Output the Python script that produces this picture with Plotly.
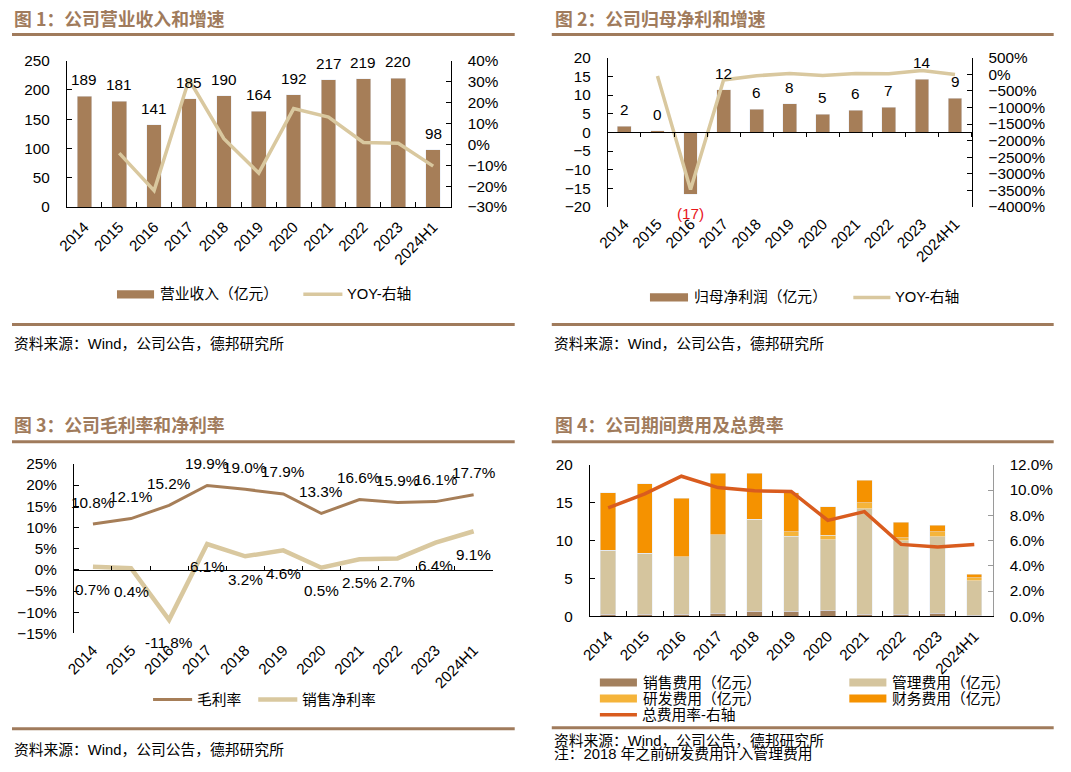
import plotly.graph_objects as go

W, H = 1071, 772
# capture correction measured on earlier renders
SX, OX = 0.987, 12.2
SY, OY = 0.975, 9.5
FS = 1 / 0.981

# ---------------- data ----------------
cats = ["2014", "2015", "2016", "2017", "2018", "2019", "2020", "2021", "2022", "2023", "2024H1"]

revenue = [189, 181, 141, 185, 190, 164, 192, 217, 219, 220, 98]
revenue_yoy = [None, -4.2, -22.1, 31.0, 2.7, -13.7, 17.1, 13.0, 0.9, 0.5, -10.4]

net_profit = [1.7, 0.5, -16.6, 11.4, 6.2, 7.7, 4.8, 5.9, 6.7, 14.2, 9.1]
net_profit_labels = ["2", "0", "(17)", "12", "6", "8", "5", "6", "7", "14", "9"]
net_profit_yoy = [None, -50, -3470, -170, -45, 25, -35, 22, 14, 112, -10]

gross_margin = [10.8, 12.1, 15.2, 19.9, 19.0, 17.9, 13.3, 16.6, 15.9, 16.1, 17.7]
net_margin = [0.7, 0.4, -11.8, 6.1, 3.2, 4.6, 0.5, 2.5, 2.7, 6.4, 9.1]

sales_exp = [0.3, 0.3, 0.3, 0.4, 0.7, 0.7, 0.8, 0.3, 0.3, 0.4, 0.15]
admin_exp = [8.4, 8.0, 7.6, 10.4, 12.1, 9.9, 9.3, 13.9, 9.7, 10.1, 4.55]
rd_exp = [0, 0, 0, 0, 0, 0.6, 0.6, 0.8, 0.4, 0.7, 0.4]
fin_exp = [7.6, 9.2, 7.7, 8.1, 6.1, 5.1, 3.8, 3.0, 2.0, 0.8, 0.45]
exp_rate = [8.6, 9.7, 11.1, 10.2, 9.95, 9.9, 7.6, 8.3, 5.7, 5.5, 5.7]

# ---------------- style ----------------
BROWN = "#A67E58"
BEIGE = "#D9C89F"
TITLE_C = "#A07B5C"
C_SALES = "#A3805E"
C_ADMIN = "#D5C59E"
C_RD = "#F5B43A"
C_FIN = "#F59200"
C_RATE = "#D95C1E"
FONT = "Liberation Sans, Arial, Noto Sans CJK SC, sans-serif"
CJK = "Noto Sans CJK SC, sans-serif"
TICKF = dict(family=FONT, size=15 * FS, color="black")


def px(p):
    return max(0.0, (p - OX) / SX) / W


def py(p):
    return 1 - min(H - 10, max(0.0, (p - OY) / SY)) / H


def ydom(top, bottom):
    return [py(bottom), py(top)]


fig = go.Figure()

fig.add_trace(go.Bar(x=cats, y=revenue, marker_color=BROWN, xaxis="x", yaxis="y",
                     showlegend=False, name="营业收入（亿元）"))
fig.add_trace(go.Scatter(x=cats, y=revenue_yoy, mode="lines", line=dict(color=BEIGE, width=3.5),
                         xaxis="x", yaxis="y2", showlegend=False, name="YOY-右轴"))

fig.add_trace(go.Bar(x=cats, y=net_profit, marker_color=BROWN, xaxis="x2", yaxis="y3",
                     showlegend=False, name="归母净利润（亿元）"))
fig.add_trace(go.Scatter(x=cats, y=net_profit_yoy, mode="lines", line=dict(color=BEIGE, width=3.5),
                         xaxis="x5", yaxis="y4", showlegend=False, name="YOY-右轴"))

fig.add_trace(go.Scatter(x=cats, y=gross_margin, mode="lines", line=dict(color=BROWN, width=3),
                         xaxis="x3", yaxis="y5", showlegend=False, name="毛利率"))
fig.add_trace(go.Scatter(x=cats, y=net_margin, mode="lines", line=dict(color=BEIGE, width=4.5),
                         xaxis="x6", yaxis="y5", showlegend=False, name="销售净利率"))

for vals, col, nm in [(sales_exp, C_SALES, "销售费用（亿元）"), (admin_exp, C_ADMIN, "管理费用（亿元）"),
                      (rd_exp, C_RD, "研发费用（亿元）"), (fin_exp, C_FIN, "财务费用（亿元）")]:
    fig.add_trace(go.Bar(x=cats, y=vals, marker_color=col, xaxis="x4", yaxis="y6",
                         showlegend=False, name=nm))
fig.add_trace(go.Scatter(x=cats, y=exp_rate, mode="lines", line=dict(color=C_RATE, width=3.5),
                         xaxis="x4", yaxis="y7", showlegend=False, name="总费用率-右轴"))


def xcat(dom, anchor, line=True, ticks="inside", labels=True):
    return dict(type="category", categoryorder="array", categoryarray=cats,
                domain=[px(dom[0]), px(dom[1])], anchor=anchor, range=[-0.5, 10.5],
                showline=line, linecolor="black", linewidth=1, ticks=ticks if line else "",
                tickson="boundaries", ticklen=5, tickcolor="black",
                showticklabels=labels, tickangle=-45, tickfont=TICKF, showgrid=False,
                zeroline=False, ticklabelstandoff=4)


def yax(dom, anchor, rng, dtick, side="left", overlaying=None, suffix="", fmt=None,
        linecolor="black", position=None):
    d = dict(domain=ydom(*dom), anchor=anchor, range=rng, dtick=dtick, side=side,
             showline=True, linecolor=linecolor, linewidth=1, ticks="inside", ticklen=5,
             tickcolor=linecolor, tickfont=TICKF, showgrid=False, zeroline=False,
             ticksuffix=suffix, ticklabelstandoff=13)
    if overlaying:
        d["overlaying"] = overlaying
    if fmt:
        d["tickformat"] = fmt
    if position is not None:
        d["position"] = position
    return d


def xzero(dom, over, ydomain_px, rng, ticks):
    lo, hi = py(ydomain_px[1]), py(ydomain_px[0])
    pos = lo + (0 - rng[0]) / (rng[1] - rng[0]) * (hi - lo)
    return dict(type="category", categoryorder="array", categoryarray=cats, overlaying=over,
                domain=[px(dom[0]), px(dom[1])], range=[-0.5, 10.5], anchor="free",
                position=pos, showline=True, linecolor="black", linewidth=1,
                ticks=ticks, tickson="boundaries", ticklen=4, tickcolor="black",
                showticklabels=False, showgrid=False, zeroline=False)


P1X, P1Y = (67, 450), (61, 207)
P2X, P2Y = (607, 970), (58, 207)
P3X, P3Y = (74, 492), (463, 632)
P4X, P4Y = (589, 991), (464, 615)
P2R = [-20, 20]
P3R = [-15, 25]

layout_axes = dict(
    xaxis=xcat(P1X, "y"),
    yaxis=yax(P1Y, "x", [0, 250], 50),
    yaxis2=yax(P1Y, "x", [-30, 40], 10, side="right", overlaying="y", suffix="%"),
    xaxis2=xcat(P2X, "y3", line=False),
    yaxis3=yax(P2Y, "x2", P2R, 5),
    yaxis4=yax(P2Y, "free", [-4000, 500], 500, side="right", overlaying="y3", suffix="%",
               position=px(P2X[1])),
    xaxis5=xzero(P2X, "x2", P2Y, P2R, "outside"),
    xaxis3=xcat(P3X, "y5", line=False),
    yaxis5=yax(P3Y, "x3", P3R, 5, suffix="%"),
    xaxis6=xzero(P3X, "x3", P3Y, P3R, "inside"),
    xaxis4=xcat(P4X, "y6"),
    yaxis6=yax(P4Y, "x4", [0, 20], 5),
    yaxis7=yax(P4Y, "x4", [0, 12], 2, side="right", overlaying="y6", suffix="%", fmt=".1f",
               linecolor="#9a9a9a"),
)

ann = []
LBL = dict(family=FONT, size=15 * FS, color="black")
for i, v in enumerate(revenue):
    ann.append(dict(x=i, y=v, xref="x", yref="y", text=str(v), showarrow=False,
                    yanchor="bottom", yshift=6, font=LBL))
for i, (v, t) in enumerate(zip(net_profit, net_profit_labels)):
    if v >= 0:
        ann.append(dict(x=i, y=v, xref="x2", yref="y3", text=t, showarrow=False,
                        yanchor="bottom", yshift=6, font=LBL))
    else:
        ann.append(dict(x=i, y=v, xref="x2", yref="y3", text=t, showarrow=False,
                        yanchor="top", yshift=-9,
                        font=dict(family=FONT, size=15 * FS, color="#E8161B")))
for i, v in enumerate(gross_margin):
    ann.append(dict(x=i, y=v, xref="x3", yref="y5", text=f"{v:.1f}%", showarrow=False,
                    yanchor="middle", yshift=22, font=LBL))
for i, v in enumerate(net_margin):
    ann.append(dict(x=i, y=v, xref="x3", yref="y5", text=f"{v:.1f}%", showarrow=False,
                    yanchor="middle", yshift=-23, font=LBL))

titles = [("图 1：公司营业收入和增速", 12, 18), ("图 2：公司归母净利和增速", 552, 18),
          ("图 3：公司毛利率和净利率", 12, 423), ("图 4：公司期间费用及总费率", 552, 423)]
for t, x, y in titles:
    ann.append(dict(x=px(x), y=py(y), xref="paper", yref="paper", text=f"<b>{t}</b>",
                    showarrow=False, xanchor="left", yanchor="middle",
                    font=dict(family=CJK, size=17.5 * FS, color=TITLE_C)))

SRCF = dict(family=FONT, size=14.5 * FS, color="black")
SRC = "资料来源：Wind，公司公告，德邦研究所"
for x, y in [(11, 343), (551, 343), (11, 748), (551, 739)]:
    ann.append(dict(x=px(x), y=py(y), xref="paper", yref="paper", text=SRC, showarrow=False,
                    xanchor="left", yanchor="middle", font=SRCF))
ann.append(dict(x=px(551), y=py(758), xref="paper", yref="paper", text="注：2018 年之前研发费用计入管理费用",
                showarrow=False, xanchor="left", yanchor="middle", font=SRCF))

shapes = []
for x0, x1, y in [(12, 514, 35), (551, 1052, 35), (12, 514, 441), (551, 1052, 441),
                  (12, 514, 324), (551, 1052, 324), (12, 514, 727), (551, 1052, 726)]:
    shapes.append(dict(type="line", xref="paper", yref="paper", x0=px(x0), x1=px(x1),
                       y0=py(y), y1=py(y), line=dict(color=TITLE_C, width=3)))

LEGF = dict(family=FONT, size=14.5 * FS, color="black")


def leg_rect(x0, x1, yc, color, text):
    shapes.append(dict(type="rect", xref="paper", yref="paper", x0=px(x0), x1=px(x1),
                       y0=py(yc + 4), y1=py(yc - 4), fillcolor=color, line=dict(width=0)))
    ann.append(dict(x=px(x1 + 4), y=py(yc), xref="paper", yref="paper", text=text,
                    showarrow=False, xanchor="left", yanchor="middle", font=LEGF))


def leg_line(x0, x1, yc, color, width, text):
    shapes.append(dict(type="line", xref="paper", yref="paper", x0=px(x0), x1=px(x1),
                       y0=py(yc), y1=py(yc), line=dict(color=color, width=width)))
    ann.append(dict(x=px(x1 + 3), y=py(yc), xref="paper", yref="paper", text=text,
                    showarrow=False, xanchor="left", yanchor="middle", font=LEGF))


leg_rect(117, 154, 294, BROWN, "营业收入（亿元）")
leg_line(303, 342, 294, BEIGE, 3.5, "YOY-右轴")
leg_rect(649, 687, 297, BROWN, "归母净利润（亿元）")
leg_line(852, 889, 297, BEIGE, 3.5, "YOY-右轴")
leg_line(153, 192, 698, BROWN, 3, "毛利率")
leg_line(258, 297, 698, BEIGE, 4.5, "销售净利率")
leg_rect(599, 636, 681, C_SALES, "销售费用（亿元）")
leg_rect(848, 885, 681, C_ADMIN, "管理费用（亿元）")
leg_rect(599, 636, 697, C_RD, "研发费用（亿元）")
leg_rect(848, 885, 697, C_FIN, "财务费用（亿元）")
leg_line(599, 636, 713, C_RATE, 3.5, "总费用率-右轴")

fig.update_layout(
    width=W, height=H, autosize=False,
    margin=dict(l=0, r=0, t=0, b=0, pad=0),
    paper_bgcolor="white", plot_bgcolor="white",
    barmode="stack", bargap=0.58,
    font=dict(family=FONT, size=15, color="black"),
    showlegend=False,
    annotations=ann, shapes=shapes,
    **layout_axes,
)

fig.write_html("out.html", config={"displayModeBar": False},
               post_script="document.body.style.margin='0';")
